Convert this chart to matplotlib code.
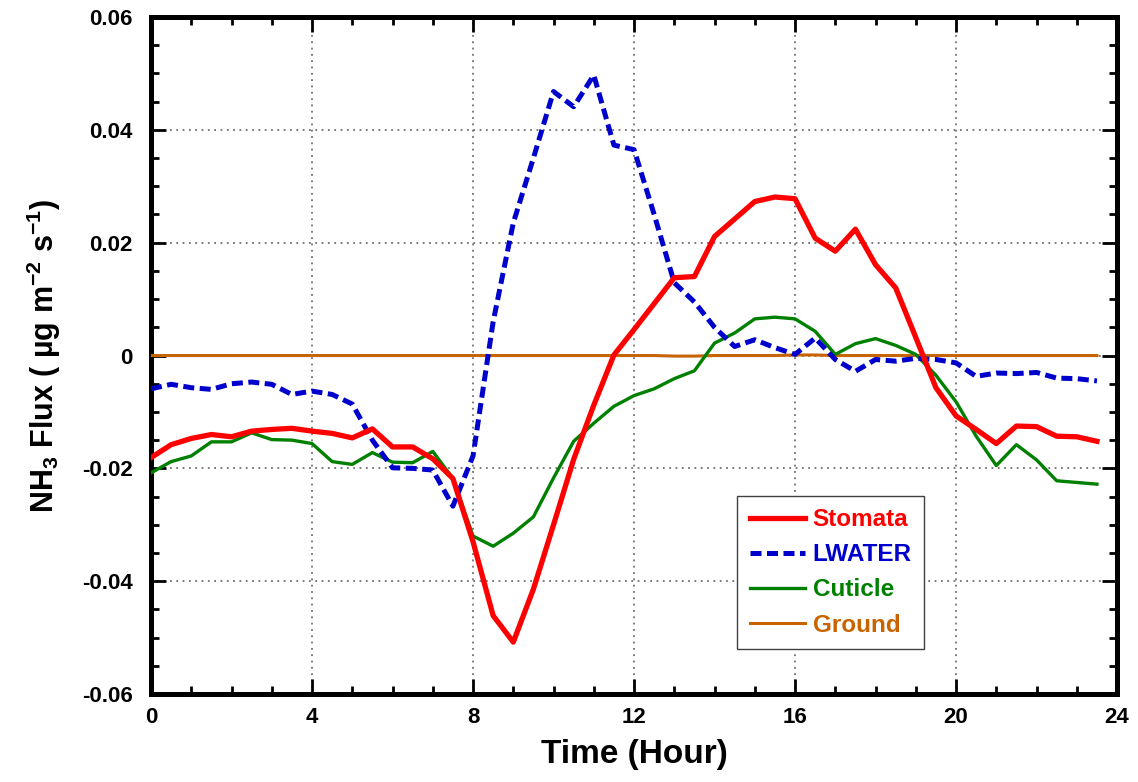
import numpy as np
import matplotlib
matplotlib.use('Agg')
import matplotlib.pyplot as plt
from matplotlib.ticker import MultipleLocator, FuncFormatter

plt.rcParams['font.family'] = ['Liberation Sans', 'DejaVu Sans']
plt.rcParams['font.weight'] = 'bold'
plt.rcParams['mathtext.fontset'] = 'custom'
plt.rcParams['mathtext.rm'] = 'Liberation Sans:bold'
plt.rcParams['mathtext.it'] = 'Liberation Sans:bold'
plt.rcParams['mathtext.bf'] = 'Liberation Sans:bold'
plt.rcParams['mathtext.default'] = 'rm'
plt.rcParams['axes.unicode_minus'] = False

# half-hourly values
hours = [0, 0.5, 1, 1.5, 2, 2.5, 3, 3.5, 4, 4.5, 5, 5.5, 6, 6.5, 7, 7.5,
         8, 8.5, 9, 9.5, 10, 10.5, 11, 11.5, 12, 12.5, 13, 13.5, 14, 14.5, 15, 15.5,
         16, 16.5, 17, 17.5, 18, 18.5, 19, 19.5, 20, 20.5, 21, 21.5, 22, 22.5, 23, 23.5]

stomata = [-0.0181, -0.0158, -0.0147, -0.0140, -0.0144, -0.0134, -0.0131, -0.0129,
           -0.0134, -0.0138, -0.0146, -0.0130, -0.0162, -0.0162, -0.0183, -0.0218,
           -0.0330, -0.0461, -0.0508, -0.0414, -0.0300, -0.0184, -0.0088, 0.0001,
           0.0046, 0.0092, 0.0138, 0.0140, 0.0211, 0.0242, 0.0273, 0.0281,
           0.0278, 0.0208, 0.0185, 0.0224, 0.0161, 0.0120, 0.0032, -0.0057,
           -0.0107, -0.0131, -0.0156, -0.0125, -0.0126, -0.0143, -0.0144, -0.0152]

lwater = [-0.0059, -0.0051, -0.0057, -0.0060, -0.0050, -0.0047, -0.0051, -0.0069,
          -0.0063, -0.0069, -0.0086, -0.0150, -0.0199, -0.0200, -0.0203, -0.0267,
          -0.0178, 0.0060, 0.0235, 0.0350, 0.0468, 0.0441, 0.0497, 0.0373,
          0.0365, 0.0250, 0.0129, 0.0095, 0.0050, 0.0016, 0.0028, 0.0014,
          0.0002, 0.0031, -0.0007, -0.0028, -0.0007, -0.0010, -0.0005, -0.0007,
          -0.0013, -0.0037, -0.0031, -0.0032, -0.0030, -0.0040, -0.0041, -0.0045]

cuticle = [-0.0208, -0.0188, -0.0178, -0.0153, -0.0153, -0.0137, -0.0149, -0.0150,
           -0.0156, -0.0188, -0.0193, -0.0172, -0.0189, -0.0190, -0.0170, -0.0218,
           -0.0320, -0.0338, -0.0315, -0.0286, -0.0217, -0.0152, -0.0120, -0.0090,
           -0.0071, -0.0059, -0.0041, -0.0027, 0.0022, 0.0040, 0.0065, 0.0068,
           0.0065, 0.0043, 0.0002, 0.0021, 0.0030, 0.0018, 0.0002, -0.0035,
           -0.0082, -0.0143, -0.0195, -0.0158, -0.0185, -0.0222, -0.0225, -0.0228]

ground = [0.0, 0.0, 0.0, 0.0, 0.0, 0.0, 0.0, 0.0,
          0.0, 0.0, 0.0, 0.0, 0.0, 0.0, 0.0, 0.0,
          0.0, 0.0, 0.0, 0.0, 0.0, 0.0, 0.0, 0.0,
          0.0, 0.0, -0.0001, -0.0001, 0.0, 0.0, 0.0, 0.0,
          0.0001, 0.0001, 0.0, 0.0, 0.0, 0.0, 0.0, 0.0,
          0.0, 0.0, 0.0, 0.0, 0.0, 0.0, 0.0, 0.0]

c_st = '#ff0000'
c_lw = '#0000cc'
c_cu = '#008000'
c_gr = '#c86400'

fig = plt.figure(figsize=(11.38, 7.82), dpi=100)
ax = fig.add_axes([0.1327, 0.1125, 0.8489, 0.8657])

ax.plot(hours, ground, color=c_gr, lw=2.2, label='Ground', zorder=3)
ax.plot(hours, cuticle, color=c_cu, lw=2.4, label='Cuticle', zorder=4)
ax.plot(hours, lwater, color=c_lw, lw=3.6, ls=(0, (2.2, 1.1)), label='LWATER', zorder=5)
ax.plot(hours, stomata, color=c_st, lw=3.8, label='Stomata', zorder=6)

ax.set_xlim(0, 24)
ax.set_ylim(-0.06, 0.06)
ax.xaxis.set_major_locator(MultipleLocator(4))
ax.xaxis.set_minor_locator(MultipleLocator(1))
ax.yaxis.set_major_locator(MultipleLocator(0.02))
ax.yaxis.set_minor_locator(MultipleLocator(0.005))
ax.yaxis.set_major_formatter(FuncFormatter(lambda v, p: '0' if abs(v) < 1e-9 else f'{v:.2f}'))

ax.grid(which='major', color='#707070', ls=(0, (1, 2.5)), lw=1.3)
ax.set_axisbelow(True)

for s in ax.spines.values():
    s.set_linewidth(3.6)
ax.tick_params(which='both', direction='in', top=True, right=True, width=2.0)
ax.tick_params(which='major', length=11, labelsize=16)
ax.tick_params(axis='x', which='major', pad=9)
ax.tick_params(axis='y', which='major', pad=13)
ax.tick_params(which='minor', length=5.5)

ax.set_xlabel('Time (Hour)', fontsize=24, fontweight='bold', labelpad=8)
ax.set_ylabel('NH$_3$ Flux ( µg m$^{-2}$ s$^{-1}$)', fontsize=22, fontweight='bold', labelpad=14)

handles, labels = ax.get_legend_handles_labels()
order = [3, 2, 1, 0]
leg = ax.legend([handles[i] for i in order], [labels[i] for i in order],
                loc='upper left', bbox_to_anchor=(0.607, 0.2925),
                fontsize=17.5, handlelength=2.3, handletextpad=0.3,
                labelspacing=0.5, borderpad=0.5, fancybox=False,
                framealpha=1, edgecolor='#404040', borderaxespad=0)
leg.get_frame().set_linewidth(1.0)
for t, h in zip(leg.get_texts(), [handles[i] for i in order]):
    t.set_color(h.get_color())
    t.set_fontweight('bold')

fig.savefig('out.png', dpi=100)
